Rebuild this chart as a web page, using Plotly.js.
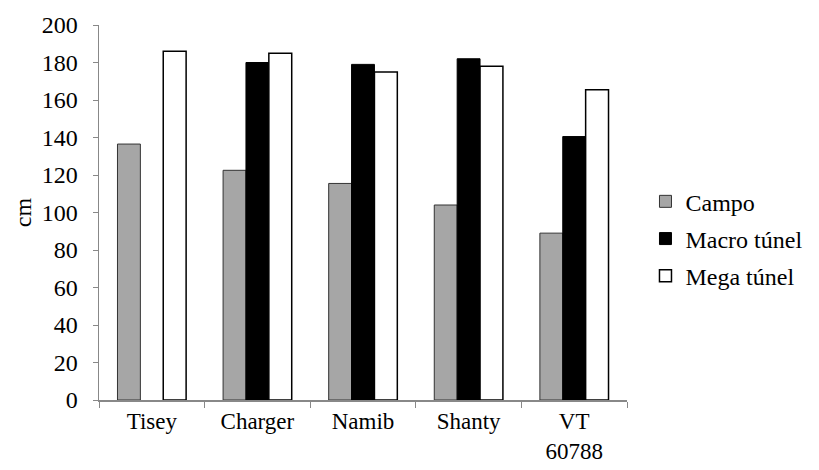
<!DOCTYPE html>
<html>
<head>
<meta charset="utf-8">
<script src="https://cdn.plot.ly/plotly-3.0.1.min.js"></script>
<style>html,body{margin:0;padding:0;background:#fff;}#chart{width:819px;height:470px;}</style>
</head>
<body>
<div id="chart"></div>
<script>
var categories = ["Tisey", "Charger", "Namib", "Shanty", "VT<br>60788"];
var seriesNames = ["Campo", "Macro túnel", "Mega túnel"];
var campo = [136.5, 122.5, 115.5, 104, 89];
var macroTunel = [null, 180, 179, 182, 140.5];
var megaTunel = [186, 185, 175, 178, 165.5];
var yTicks = [0, 20, 40, 60, 80, 100, 120, 140, 160, 180, 200];

var font = "'Liberation Serif', 'Times New Roman', serif";
var traces = [
  {type: "bar", name: seriesNames[0], x: categories, y: campo, legendgroup: "a",
   marker: {color: "#a6a6a6", line: {color: "#333333", width: 1}}},
  {type: "bar", name: seriesNames[1], x: categories, y: macroTunel, legendgroup: "b",
   marker: {color: "#000000", line: {color: "#000000", width: 1}}},
  {type: "bar", name: seriesNames[2], x: categories, y: megaTunel, legendgroup: "c",
   marker: {color: "#ffffff", line: {color: "#000000", width: 1.5}}}
];
var layout = {
  width: 819, height: 470,
  margin: {l: 99, r: 189, t: 25, b: 70},
  paper_bgcolor: "#fff", plot_bgcolor: "#fff",
  font: {family: font, size: 24, color: "#000"},
  barmode: "group", bargap: 0.35, bargroupgap: 0,
  showlegend: true,
  legend: {x: 1.035, y: 0.43, yanchor: "middle", xanchor: "left", traceorder: "grouped",
           font: {family: font, size: 24, color: "#000"}, tracegroupgap: 3, itemwidth: 30},
  xaxis: {type: "category", showline: true, linecolor: "#888", linewidth: 1.5,
          ticks: "outside", tickson: "boundaries", ticklen: 6, tickcolor: "#888",
          ticklabelstandoff: 0,
          showgrid: false, tickfont: {family: font, size: 23}},
  yaxis: {range: [0, 200], tickvals: yTicks, showline: true, linecolor: "#888", linewidth: 1.5,
          ticks: "outside", ticklen: 5, tickcolor: "#888", showgrid: false, zeroline: false,
          ticklabelstandoff: 10,
          tickfont: {family: font, size: 24},
          title: {text: "cm", font: {family: font, size: 24}, standoff: 3}}
};
Plotly.newPlot("chart", traces, layout, {displayModeBar: false, staticPlot: true});
</script>
</body>
</html>
